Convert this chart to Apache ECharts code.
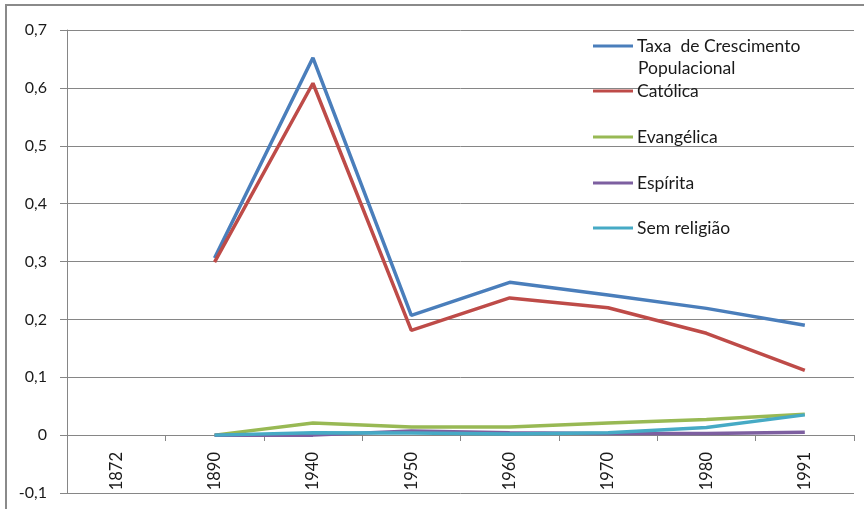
<!DOCTYPE html>
<html>
<head>
<meta charset="utf-8">
<script src="https://cdn.jsdelivr.net/npm/echarts@6/dist/echarts.min.js"></script>
<style>
  html, body { margin: 0; padding: 0; background: #fff; }
  #chart { width: 864px; height: 509px; }
</style>
</head>
<body>
<div id="chart"></div>
<script>
  // dados do gráfico
  const anos = ['1872', '1890', '1940', '1950', '1960', '1970', '1980', '1991']
  const taxaCrescimento = [null, 0.306, 0.652, 0.207, 0.264, 0.242, 0.219, 0.19]
  const catolica = [null, 0.299, 0.608, 0.181, 0.237, 0.220, 0.176, 0.112]
  const evangelica = [null, 0, 0.021, 0.014, 0.014, 0.021, 0.027, 0.036]
  const espirita = [null, 0, 0.000, 0.007, 0.004, 0.003, 0.003, 0.005]
  const semReligiao = [null, 0, 0.004, 0.0035, 0.002, 0.004, 0.013, 0.035]

  const fonte = 'Lato, "Liberation Sans", sans-serif'
  const cinza = '#868686'

  var chart = echarts.init(document.getElementById('chart'))

  // uma legenda por série, para acertar a posição vertical de cada uma
  function legenda(nome, centro, texto) {
    return {
      data: [nome],
      left: 593,
      top: centro - 9,
      padding: 0,
      orient: 'vertical',
      itemWidth: 40,
      itemHeight: 3,
      itemGap: 0,
      icon: 'rect',
      selectedMode: false,
      formatter: texto ? function () { return texto } : undefined,
      textStyle: { fontFamily: fonte, fontSize: 17.5, lineHeight: 18, color: '#1a1a1a', padding: [0, 0, 0, -1] }
    }
  }

  function serie(nome, dados, cor) {
    return {
      name: nome,
      type: 'line',
      data: dados,
      symbol: 'none',
      connectNulls: false,
      lineStyle: { color: cor, width: 3.5 },
      itemStyle: { color: cor }
    }
  }

  const option = {
    animation: false,
    grid: { left: 67, right: 10, top: 30, bottom: 16, outerBoundsMode: 'none', containLabel: false },
    legend: [
      legenda('Taxa  de Crescimento Populacional', 46, 'Taxa  de Crescimento'),
      legenda('Católica', 91),
      legenda('Evangélica', 137),
      legenda('Espírita', 183),
      legenda('Sem religião', 228)
    ],
    graphic: [
      {
        type: 'text',
        left: 638,
        top: 59,
        style: { text: 'Populacional', font: '17.5px ' + fonte, fill: '#1a1a1a' }
      },
      {
        type: 'rect',
        shape: { x: 6, y: 5, width: 880, height: 520 },
        style: { fill: 'none', stroke: '#8a8a8a', lineWidth: 2 },
        silent: true
      }
    ],
    xAxis: {
      type: 'category',
      data: anos,
      boundaryGap: true,
      // eixo sobe até o valor 0 (uma divisão acima da base)
      offset: -58,
      axisLine: { onZero: false, lineStyle: { color: cinza, width: 1 } },
      axisTick: { show: true, length: 6, interval: 0, lineStyle: { color: cinza } },
      axisLabel: { rotate: 90, margin: 17, interval: 0, fontFamily: fonte, fontSize: 16.5, color: '#1a1a1a' },
      splitLine: { show: false }
    },
    yAxis: {
      type: 'value',
      min: -0.1,
      max: 0.7,
      interval: 0.1,
      axisLine: { show: true, lineStyle: { color: cinza, width: 1 } },
      axisTick: { show: true, length: 7, lineStyle: { color: cinza } },
      axisLabel: {
        margin: 20,
        fontFamily: fonte,
        fontSize: 16,
        color: '#1a1a1a',
        formatter: function (v) {
          if (Math.abs(v) < 1e-9) return '0'
          return v.toFixed(1).replace('.', ',')
        }
      },
      splitLine: { show: true, lineStyle: { color: cinza, width: 1 } }
    },
    series: [
      serie('Taxa  de Crescimento Populacional', taxaCrescimento, '#4A7EBB'),
      serie('Católica', catolica, '#BE4B48'),
      serie('Evangélica', evangelica, '#98B954'),
      serie('Espírita', espirita, '#7D5FA0'),
      serie('Sem religião', semReligiao, '#46AAC5')
    ]
  }

  chart.setOption(option)
</script>
</body>
</html>
